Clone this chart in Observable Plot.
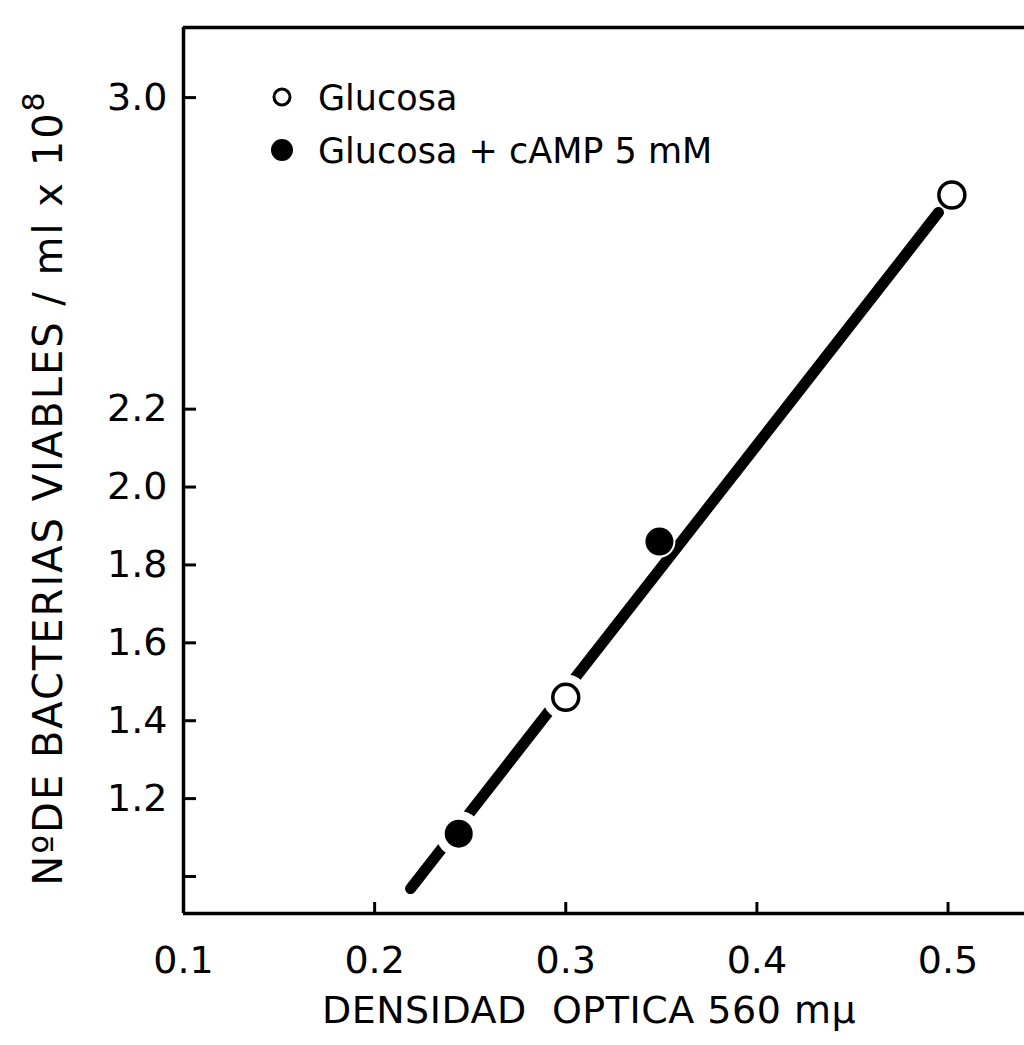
<!DOCTYPE html>
<html><head><meta charset="utf-8">
<script src="https://cdn.jsdelivr.net/npm/d3@7"></script>
<script src="https://cdn.jsdelivr.net/npm/@observablehq/plot@0.6"></script>
<style>body{margin:0;background:#fff} svg{display:block}</style>
</head><body><div id="chart"></div>
<script>
// ---- data ----
const glucosaX = [0.300, 0.502];
const glucosaY = [1.46, 2.75];
const campX = [0.244, 0.349];
const campY = [1.11, 1.86];
const fitX = [0.2188, 0.495];
const fitY = [0.969, 2.705];
const xTicks = [0.1, 0.2, 0.3, 0.4, 0.5];
const xTickLabels = ["0.1", "0.2", "0.3", "0.4", "0.5"];
const yTicks = [1.0, 1.2, 1.4, 1.6, 1.8, 2.0, 2.2, 3.0];
const yTickLabels = ["", "1.2", "1.4", "1.6", "1.8", "2.0", "2.2", "3.0"];
const seriesNames = ["Glucosa", "Glucosa + cAMP 5 mM"];
const xLabel = "DENSIDAD  OPTICA 560 mµ";
const yLabel = "NºDE BACTERIAS VIABLES / ml x 10";
const yLabelExp = "8";

const FONT = '"DejaVu Sans", sans-serif';
const xDomain = [0.1, 0.54];
const yDomain = [0.905, 3.18];
const W = 1024, H = 1045, ML = 183, MR = 0, MT = 27, MB = 132;
const frameW = W - ML - MR, frameH = H - MT - MB;

const glucosa = glucosaX.map((x, i) => ({x, y: glucosaY[i], s: seriesNames[0]}));
const camp = campX.map((x, i) => ({x, y: campY[i], s: seriesNames[1]}));
const fit = fitX.map((x, i) => ({x, y: fitY[i]}));
const gapPts = [glucosa[0], camp[0]];

const chart = Plot.plot({
  width: W, height: H,
  marginLeft: ML, marginRight: MR, marginTop: MT, marginBottom: MB,
  style: {fontFamily: FONT, color: "black", background: "white"},
  x: {domain: xDomain},
  y: {domain: yDomain},
  marks: [
    Plot.line(fit, {x: "x", y: "y", stroke: "black", strokeWidth: 11, strokeLinecap: "round"}),
    Plot.dot(gapPts, {x: "x", y: "y", r: 23, fill: "white", stroke: "none"}),
    Plot.dot(camp, {x: "x", y: "y", r: 15, fill: "black", stroke: "white", strokeWidth: 2}),
    Plot.dot(glucosa, {x: "x", y: "y", r: 13, fill: "white", stroke: "black", strokeWidth: 3.5}),
    Plot.ruleX([xDomain[0]], {stroke: "black", strokeWidth: 3.5}),
    Plot.ruleY([yDomain[0]], {stroke: "black", strokeWidth: 3.5}),
    Plot.ruleY([yDomain[1]], {stroke: "black", strokeWidth: 3.5}),
    // inward ticks
    Plot.tickY(yTicks, {y: d => d, stroke: "black", strokeWidth: 3, insetRight: frameW - 13}),
    Plot.tickX(xTicks, {x: d => d, stroke: "black", strokeWidth: 3, insetTop: frameH - 11}),
    Plot.axisY({ticks: yTicks, tickSize: 0, tickPadding: 16,
      tickFormat: d => yTickLabels[yTicks.indexOf(d)], fontSize: 38, label: null}),
    Plot.axisX({ticks: xTicks, tickSize: 0, tickPadding: 33,
      tickFormat: d => xTickLabels[xTicks.indexOf(d)], fontSize: 38, label: null})
  ]
});

const svg = d3.select(chart);
// legend
const lg = svg.append("g").attr("font-family", FONT).attr("font-size", 35).attr("fill", "black").attr("text-anchor", "start");
lg.append("circle").attr("cx", 282).attr("cy", 97).attr("r", 8).attr("fill", "white").attr("stroke", "black").attr("stroke-width", 3);
lg.append("text").attr("x", 318).attr("y", 97).attr("dy", "0.36em").text(seriesNames[0]);
lg.append("circle").attr("cx", 282).attr("cy", 150).attr("r", 11).attr("fill", "black");
lg.append("text").attr("x", 318).attr("y", 150).attr("dy", "0.36em").text(seriesNames[1]);
// x label
svg.append("text").attr("x", 589).attr("y", 1023).attr("text-anchor", "middle")
  .attr("font-family", FONT).attr("font-size", 38).attr("letter-spacing", 0.5).attr("fill", "black")
  .style("white-space", "pre").text(xLabel);
// y label
const yl = svg.append("text").attr("transform", "translate(62,488) rotate(-90)").attr("text-anchor", "middle")
  .attr("font-family", FONT).attr("font-size", 40).attr("letter-spacing", 2).attr("fill", "black");
yl.append("tspan").text(yLabel);
yl.append("tspan").attr("dy", -18).attr("font-size", 30).text(yLabelExp);

document.getElementById("chart").appendChild(chart);
</script></body></html>
